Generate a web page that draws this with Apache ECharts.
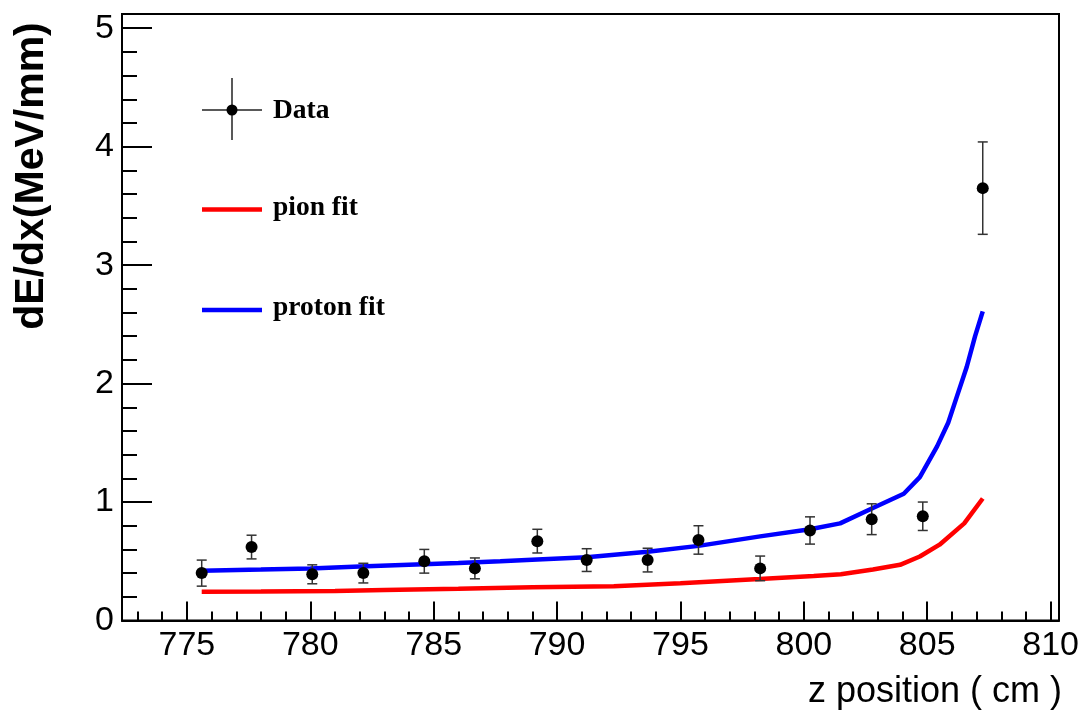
<!DOCTYPE html>
<html>
<head>
<meta charset="utf-8">
<script src="https://cdn.jsdelivr.net/npm/echarts@6/dist/echarts.min.js"></script>
<style>
html,body{margin:0;padding:0;background:#fff;}
#chart{width:1085px;height:712px;}
</style>
</head>
<body>
<div id="chart"></div>
<script>
// ---- data ----
var dataX   = [775.60, 777.62, 780.08, 782.15, 784.62, 786.67, 789.20, 791.20, 793.67, 795.73, 798.23, 800.25, 802.75, 804.82, 807.25];
var dataY   = [0.40, 0.62, 0.39, 0.40, 0.50, 0.44, 0.67, 0.51, 0.51, 0.68, 0.44, 0.76, 0.855, 0.88, 3.65];
var dataErr = [0.11, 0.10, 0.08, 0.083, 0.10, 0.088, 0.10, 0.096, 0.10, 0.12, 0.104, 0.115, 0.13, 0.12, 0.39];

var protonX = [775.6, 778, 780, 782, 784, 786, 787.7, 789.2, 791.2, 793.67, 795.73, 798.23, 800.25, 801.47, 802.8, 804.05, 804.7, 805.4, 805.85, 806.2, 806.6, 806.94, 807.25];
var protonY = [0.42, 0.43, 0.44, 0.455, 0.47, 0.485, 0.50, 0.515, 0.534, 0.58, 0.63, 0.71, 0.77, 0.82, 0.95, 1.07, 1.21, 1.47, 1.67, 1.89, 2.14, 2.40, 2.61];

var pionX = [775.6, 778, 781, 783, 786, 789, 792.3, 795, 798.2, 800.4, 801.5, 802.8, 803.9, 804.7, 805.5, 806.5, 807.25];
var pionY = [0.243, 0.245, 0.25, 0.258, 0.268, 0.28, 0.29, 0.315, 0.35, 0.375, 0.39, 0.43, 0.47, 0.54, 0.64, 0.82, 1.03];

var xTitle = 'z position ( cm )';
var yTitle = 'dE/dx(MeV/mm)';
var legendNames = ['Data', 'pion fit', 'proton fit'];

function zip(a, b) { return a.map(function (v, i) { return [v, b[i]]; }); }

var chart = echarts.init(document.getElementById('chart'), null, {renderer: 'canvas'});
var tickFont = {fontFamily: 'Liberation Sans, Arial, sans-serif', fontSize: 34, color: '#000'};
var legFont = 'Liberation Serif, Times New Roman, serif';

var option = {
  animation: false,
  backgroundColor: '#fff',
  grid: {left: 122, top: 14, right: 26, bottom: 91.5, show: true, borderColor: '#000', borderWidth: 2, backgroundColor: 'transparent'},
  xAxis: {
    type: 'value', min: 772.37, max: 810.34, splitNumber: 7,
    axisLine: {show: true, lineStyle: {color: '#000', width: 2}},
    axisTick: {show: true, inside: true, length: 19, lineStyle: {color: '#000', width: 2}},
    minorTick: {show: true, splitNumber: 5, length: 9, lineStyle: {color: '#000', width: 2}},
    splitLine: {show: false},
    axisLabel: Object.assign({margin: 8, showMinLabel: false, showMaxLabel: false}, tickFont)
  },
  yAxis: {
    type: 'value', min: 0, max: 5.12, interval: 1,
    axisLine: {show: true, lineStyle: {color: '#000', width: 2}},
    axisTick: {show: true, inside: true, length: 30, lineStyle: {color: '#000', width: 2}},
    minorTick: {show: true, splitNumber: 5, length: 15, lineStyle: {color: '#000', width: 2}},
    splitLine: {show: false},
    axisLabel: Object.assign({margin: 8, showMaxLabel: false}, tickFont)
  },
  series: [
    {
      name: legendNames[1], type: 'line', data: zip(pionX, pionY), showSymbol: false, symbol: 'none',
      lineStyle: {color: '#ff0000', width: 4.5}, z: 2
    },
    {
      name: legendNames[2], type: 'line', data: zip(protonX, protonY), showSymbol: false, symbol: 'none',
      lineStyle: {color: '#0000ff', width: 4.5}, z: 2
    },
    {
      name: 'err', type: 'custom', z: 3,
      data: dataX.map(function (x, i) { return [x, dataY[i], dataErr[i]]; }),
      renderItem: function (params, api) {
        var x = api.value(0), y = api.value(1), e = api.value(2);
        var top = api.coord([x, y + e]);
        var bot = api.coord([x, y - e]);
        var cw = 5;
        var st = {stroke: '#333', lineWidth: 1.5};
        return {
          type: 'group',
          children: [
            {type: 'line', shape: {x1: top[0], y1: top[1], x2: bot[0], y2: bot[1]}, style: st},
            {type: 'line', shape: {x1: top[0] - cw, y1: top[1], x2: top[0] + cw, y2: top[1]}, style: st},
            {type: 'line', shape: {x1: bot[0] - cw, y1: bot[1], x2: bot[0] + cw, y2: bot[1]}, style: st}
          ]
        };
      }
    },
    {
      name: legendNames[0], type: 'scatter', data: zip(dataX, dataY), symbol: 'circle', symbolSize: 12,
      itemStyle: {color: '#000', opacity: 1}, z: 4
    }
  ],
  graphic: [
    {type: 'text', x: 32, y: 176, rotation: Math.PI / 2,
     style: {text: yTitle, fontFamily: 'Liberation Sans, Arial, sans-serif', fontWeight: 'bold', fontSize: 41, fill: '#000', align: 'center', verticalAlign: 'middle'}},
    {type: 'text', x: 1062, y: 692,
     style: {text: xTitle, fontFamily: 'Liberation Sans, Arial, sans-serif', fontSize: 36, fill: '#000', align: 'right', verticalAlign: 'middle'}},
    // legend: Data
    {type: 'line', shape: {x1: 202, y1: 110, x2: 262, y2: 110}, style: {stroke: '#222', lineWidth: 1.5}},
    {type: 'line', shape: {x1: 232, y1: 78, x2: 232, y2: 140}, style: {stroke: '#222', lineWidth: 1.5}},
    {type: 'circle', shape: {cx: 232, cy: 110, r: 5.5}, style: {fill: '#000'}},
    {type: 'text', x: 273, y: 110.5, style: {text: legendNames[0], fontFamily: legFont, fontWeight: 'bold', fontSize: 27.5, fill: '#000', align: 'left', verticalAlign: 'middle'}},
    // legend: pion fit
    {type: 'line', shape: {x1: 202, y1: 209.5, x2: 262, y2: 209.5}, style: {stroke: '#ff0000', lineWidth: 4.5}},
    {type: 'text', x: 273, y: 208, style: {text: legendNames[1], fontFamily: legFont, fontWeight: 'bold', fontSize: 27.5, fill: '#000', align: 'left', verticalAlign: 'middle'}},
    // legend: proton fit
    {type: 'line', shape: {x1: 202, y1: 310, x2: 262, y2: 310}, style: {stroke: '#0000ff', lineWidth: 4.5}},
    {type: 'text', x: 273, y: 308, style: {text: legendNames[2], fontFamily: legFont, fontWeight: 'bold', fontSize: 27.5, fill: '#000', align: 'left', verticalAlign: 'middle'}}
  ]
};
chart.setOption(option);
</script>
</body>
</html>
